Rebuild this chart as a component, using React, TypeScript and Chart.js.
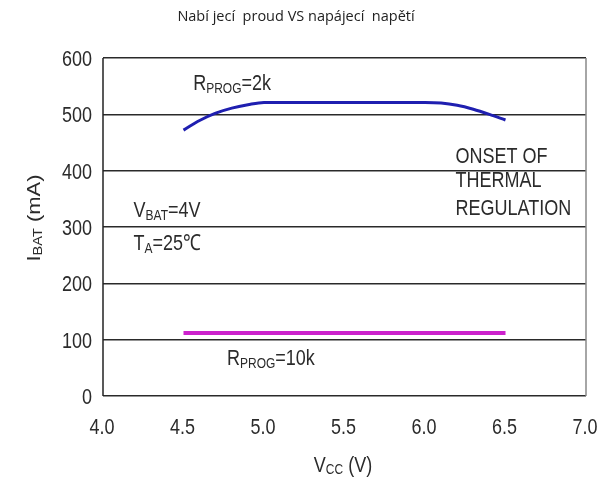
import React, { useEffect, useRef } from "react";
import { Chart, registerables } from "chart.js";

Chart.register(...registerables);

// ---------- data ----------
const chartTitle = "Nabí jecí  proud VS napájecí  napětí";
const xTickValues = [4.0, 4.5, 5.0, 5.5, 6.0, 6.5, 7.0];
const yTickValues = [0, 100, 200, 300, 400, 500, 600];

const vcc2k = [4.5, 4.6, 4.7, 4.8, 4.9, 5.0, 5.5, 6.0, 6.1, 6.2, 6.3, 6.4, 6.5];
const ibat2k = [472, 489, 502, 511, 517, 521, 521, 521, 520, 516, 509, 500, 490];

const vcc10k = [4.5, 5.0, 5.5, 6.0, 6.5];
const ibat10k = [112, 112, 112, 112, 112];

// ---------- styling / layout ----------
const FONT = '"Liberation Sans", Arial, sans-serif';
const TEXT_COLOR = "#2b2b2b";
const STRETCH = 1.22;

type Part = { t: string; size: number; dy?: number };

const annotations: { parts: Part[]; x: number; y: number }[] = [
  { parts: [{ t: "R", size: 18 }, { t: "PROG", size: 12, dy: 3 }, { t: "=2k", size: 18 }], x: 4.56, y: 543 },
  { parts: [{ t: "ONSET OF", size: 18 }], x: 6.19, y: 414 },
  { parts: [{ t: "THERMAL", size: 18 }], x: 6.19, y: 371 },
  { parts: [{ t: "REGULATION", size: 18 }], x: 6.19, y: 321 },
  { parts: [{ t: "V", size: 18 }, { t: "BAT", size: 12, dy: 3 }, { t: "=4V", size: 18 }], x: 4.19, y: 318 },
  { parts: [{ t: "T", size: 18 }, { t: "A", size: 12, dy: 3 }, { t: "=25℃", size: 18 }], x: 4.19, y: 259 },
  { parts: [{ t: "R", size: 18 }, { t: "PROG", size: 12, dy: 3 }, { t: "=10k", size: 18 }], x: 4.77, y: 55 },
];

function drawRich(
  ctx: CanvasRenderingContext2D,
  x: number,
  y: number,
  parts: Part[],
  align: "left" | "center" | "right" = "left",
  sx = 1,
  sy = STRETCH
) {
  ctx.save();
  ctx.textAlign = "left";
  ctx.textBaseline = "alphabetic";
  ctx.fillStyle = TEXT_COLOR;
  let w = 0;
  for (const p of parts) {
    ctx.font = `${p.size}px ${FONT}`;
    w += ctx.measureText(p.t).width * sx;
  }
  let cx = align === "center" ? x - w / 2 : align === "right" ? x - w : x;
  for (const p of parts) {
    ctx.font = `${p.size}px ${FONT}`;
    const pw = ctx.measureText(p.t).width * sx;
    ctx.save();
    ctx.translate(cx, y + (p.dy || 0));
    ctx.scale(sx, sy);
    ctx.fillText(p.t, 0, 0);
    ctx.restore();
    cx += pw;
  }
  ctx.restore();
}

const textPlugin = {
  id: "textPlugin",
  beforeDatasetsDraw(chart: any) {
    const { ctx, chartArea } = chart;
    ctx.save();
    ctx.strokeStyle = "#222222";
    ctx.lineWidth = 1.5;
    ctx.beginPath();
    ctx.moveTo(chartArea.left, chartArea.top);
    ctx.lineTo(chartArea.left, chartArea.bottom);
    ctx.stroke();
    ctx.strokeStyle = "#888888";
    ctx.beginPath();
    ctx.moveTo(chartArea.right, chartArea.top);
    ctx.lineTo(chartArea.right, chartArea.bottom);
    ctx.stroke();
    ctx.restore();
  },
  afterDraw(chart: any) {
    const { ctx, scales, chartArea } = chart;
    const xs = scales.x;
    const ys = scales.y;

    // title
    ctx.save();
    ctx.font = `14.5px "Open Sans", "Noto Sans", sans-serif`;
    ctx.fillStyle = "#222222";
    ctx.textAlign = "center";
    ctx.textBaseline = "middle";
    ctx.fillText(chartTitle, 296, 17);
    ctx.restore();

    // y tick labels
    for (const v of yTickValues) {
      const py = ys.getPixelForValue(v);
      drawRich(ctx, chartArea.left - 11, py + 8, [{ t: String(v), size: 18 }], "right");
    }
    // x tick labels
    for (const v of xTickValues) {
      const px = xs.getPixelForValue(v);
      drawRich(ctx, px - 1, 434, [{ t: v.toFixed(1), size: 18 }], "center");
    }

    // x axis title
    drawRich(
      ctx,
      343,
      472,
      [{ t: "V", size: 18 }, { t: "CC", size: 12, dy: 2 }, { t: " (V)", size: 18 }],
      "center"
    );

    // y axis title (rotated)
    ctx.save();
    ctx.translate(40, 218);
    ctx.rotate(-Math.PI / 2);
    drawRich(
      ctx,
      0,
      0,
      [{ t: "I", size: 18 }, { t: "BAT", size: 12, dy: 2 }, { t: " (mA)", size: 18 }],
      "center",
      STRETCH,
      1
    );
    ctx.restore();

    // annotations
    for (const a of annotations) {
      drawRich(ctx, xs.getPixelForValue(a.x), ys.getPixelForValue(a.y), a.parts, "left");
    }
  },
};

export default function App() {
  const ref = useRef<HTMLCanvasElement | null>(null);

  useEffect(() => {
    if (!ref.current) return;
    const chart = new Chart(ref.current, {
      type: "line",
      data: {
        datasets: [
          {
            label: "RPROG=2k",
            data: vcc2k.map((v, i) => ({ x: v, y: ibat2k[i] })),
            borderColor: "#1f1fb0",
            borderWidth: 3,
            pointRadius: 0,
            cubicInterpolationMode: "monotone",
            fill: false,
          },
          {
            label: "RPROG=10k",
            data: vcc10k.map((v, i) => ({ x: v, y: ibat10k[i] })),
            borderColor: "#cc22cc",
            borderWidth: 4,
            pointRadius: 0,
            fill: false,
          },
        ],
      },
      options: {
        animation: false,
        responsive: false,
        devicePixelRatio: 1,
        layout: { padding: { top: 58, right: 22, bottom: 0, left: 0 } },
        plugins: {
          legend: { display: false },
          tooltip: { enabled: false },
          title: { display: false },
        },
        scales: {
          x: {
            type: "linear",
            min: 4,
            max: 7,
            ticks: { display: false, stepSize: 0.5 },
            grid: { display: false },
            border: { display: false },
            afterFit: (s: any) => {
              s.height = 89;
            },
          },
          y: {
            type: "linear",
            min: 0,
            max: 600,
            ticks: { display: false, stepSize: 100 },
            grid: { color: "#2a2a2a", lineWidth: 1.5, drawTicks: false },
            border: { display: false },
            afterFit: (s: any) => {
              s.width = 103;
            },
          },
        },
      },
      plugins: [textPlugin],
    } as any);
    return () => chart.destroy();
  }, []);

  return (
    <div style={{ position: "absolute", left: 0, top: 0, width: 608, height: 485, background: "#fff" }}>
      <canvas ref={ref} width={608} height={485} style={{ width: 608, height: 485 }} />
    </div>
  );
}
